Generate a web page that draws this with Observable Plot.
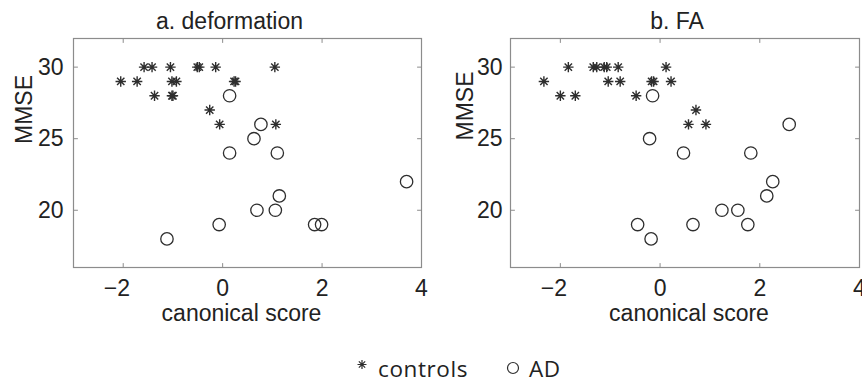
<!DOCTYPE html>
<html><head><meta charset="utf-8">
<script src="https://cdn.jsdelivr.net/npm/d3@7"></script>
<script src="https://cdn.jsdelivr.net/npm/@observablehq/plot@0.6"></script>
<style>
body{margin:0;background:#fff;}
#fig{width:862px;height:383px;position:relative;overflow:hidden;background:#fff;}
#panels{display:flex;width:862px;height:330px;}
#legend{position:absolute;left:0;top:330px;}
</style></head><body>
<div id="fig"><div id="panels"></div><div id="legend"></div></div>
<script>
// ---- data ----
const groups = ["controls", "AD"];
const panelTitles = ["a. deformation", "b. FA"];
const xTicks = [-2, 0, 2, 4];
const yTicks = [20, 25, 30];
const xLabel = "canonical score";
const yLabel = "MMSE";

// panel a: deformation
const defCtrlX = [-1.58, -1.42, -1.05, -0.51, -0.47, -0.14, 1.05, -2.05, -1.72, -1.02, -0.93, 0.23, 0.26, -1.37, -1.02, -1.00, -0.26, -0.06, 1.07];
const defCtrlY = [30, 30, 30, 30, 30, 30, 30, 29, 29, 29, 29, 29, 29, 28, 28, 28, 27, 26, 26];
const defAdX = [0.14, 0.77, 0.63, 0.14, 1.10, 3.70, 1.14, 0.69, 1.06, -0.07, 1.85, 1.99, -1.12];
const defAdY = [28, 26, 25, 24, 24, 22, 21, 20, 20, 19, 19, 19, 18];

// panel b: FA
const faCtrlX = [-1.84, -1.34, -1.27, -1.12, -1.07, -0.84, 0.12, -2.33, -1.04, -0.80, -0.17, -0.13, 0.22, -2.00, -1.70, -0.48, 0.72, 0.57, 0.92];
const faCtrlY = [30, 30, 30, 30, 30, 30, 30, 29, 29, 29, 29, 29, 29, 28, 28, 28, 27, 26, 26];
const faAdX = [-0.15, 2.59, -0.21, 0.47, 1.82, 2.26, 2.14, 1.24, 1.56, -0.45, 0.66, 1.76, -0.18];
const faAdY = [28, 26, 25, 24, 24, 22, 21, 20, 20, 19, 19, 19, 18];

// ---- styles ----
const FONT = "'Liberation Sans', Arial, Helvetica, sans-serif";
const FS = 23;
const FRAME = "#8c8c8c";
const INK = "#2e2e2e";

const star = {draw(ctx, size) {
  const r = Math.sqrt(size / Math.PI), k = r * Math.SQRT1_2;
  ctx.moveTo(-r, 0); ctx.lineTo(r, 0);
  ctx.moveTo(0, -r); ctx.lineTo(0, r);
  ctx.moveTo(-k, -k); ctx.lineTo(k, k);
  ctx.moveTo(-k, k); ctx.lineTo(k, -k);
}};
const tickShape = {draw(ctx, l) { ctx.moveTo(0, 0); ctx.lineTo(0, -l); }};
const fmt = d => d < 0 ? "\u2212" + Math.abs(d) + "\u2007" : String(d);

function panel(o) {
  const ctrl = o.ctrlX.map((x, i) => ({x, y: o.ctrlY[i], g: groups[0]}));
  const ad = o.adX.map((x, i) => ({x, y: o.adY[i], g: groups[1]}));
  const inner = xTicks.filter(t => t > -3 && t < 4);
  const tk = {length: 4, anchor: "start", shape: tickShape, stroke: FRAME, strokeWidth: 1};
  return Plot.plot({
    width: 431, height: 330,
    marginLeft: o.mL, marginRight: o.mR, marginTop: 38, marginBottom: 63,
    style: {fontFamily: FONT, fontSize: FS + "px", color: "#222", background: "white", overflow: "visible"},
    x: {domain: [-3, 4]},
    y: {domain: [16, 32]},
    marks: [
      Plot.frame({stroke: FRAME, strokeWidth: 1.2}),
      Plot.vector(inner, {...tk, x: d => d, frameAnchor: "bottom", rotate: 0}),
      Plot.vector(inner, {...tk, x: d => d, frameAnchor: "top", rotate: 180}),
      Plot.vector(yTicks, {...tk, y: d => d, frameAnchor: "left", rotate: 90}),
      Plot.vector(yTicks, {...tk, y: d => d, frameAnchor: "right", rotate: -90}),
      Plot.axisX({ticks: xTicks, tickSize: 0, tickPadding: 12, tickFormat: fmt, label: null, fontSize: FS, fill: "#222"}),
      Plot.axisY({ticks: yTicks, tickSize: 0, tickPadding: o.yPad, label: null, fontSize: FS, fill: "#222"}),
      Plot.dot(ctrl, {x: "x", y: "y", symbol: star, r: 5.2, stroke: INK, strokeWidth: 1.4}),
      Plot.dot(ad, {x: "x", y: "y", symbol: "circle", r: 6.2, stroke: INK, strokeWidth: 1.3, fill: "none"}),
      Plot.text([o.title], {frameAnchor: "top", lineAnchor: "bottom", dy: -10, dx: o.titleDx, fontSize: FS, fill: "#222"}),
      Plot.text([xLabel], {frameAnchor: "bottom", lineAnchor: "bottom", dy: 53, dx: o.xLabDx, fontSize: FS, fill: "#222"}),
      Plot.text([yLabel], {frameAnchor: "left", lineAnchor: "bottom", rotate: -90, dx: o.yLabDx, dy: o.yLabDy, fontSize: FS, fill: "#222"})
    ]
  });
}

const panels = document.getElementById("panels");
panels.append(panel({title: panelTitles[0], ctrlX: defCtrlX, ctrlY: defCtrlY, adX: defAdX, adY: defAdY,
  mL: 73, mR: 10, yPad: 10, titleDx: -18, xLabDx: -6, yLabDx: -42, yLabDy: -9}));
panels.append(panel({title: panelTitles[1], ctrlX: faCtrlX, ctrlY: faCtrlY, adX: faAdX, adY: faAdY,
  mL: 79, mR: 3, yPad: 8, titleDx: -8, xLabDx: 4, yLabDx: -37.5, yLabDy: -12.5}));

// ---- legend ----
const lg = d3.select("#legend").append("svg").attr("width", 862).attr("height", 53);
const starPath = d3.path(); star.draw(starPath, Math.PI * 20);
lg.append("path").attr("d", starPath.toString()).attr("transform", "translate(362,34.5)")
  .attr("stroke", INK).attr("fill", "none").attr("stroke-width", 1.2);
lg.append("circle").attr("cx", 513).attr("cy", 38).attr("r", 5.5)
  .attr("stroke", INK).attr("fill", "none").attr("stroke-width", 1.2);
lg.append("text").attr("x", 378).attr("y", 46.5).text(groups[0])
  .attr("font-family", "'Open Sans', sans-serif").attr("font-size", 22.5).attr("letter-spacing", 0.6).attr("fill", "#222");
lg.append("text").attr("x", 529).attr("y", 46.5).text(groups[1])
  .attr("font-family", "'Open Sans', sans-serif").attr("font-size", 22.5).attr("letter-spacing", 0.6).attr("fill", "#222");
</script>
</body></html>
